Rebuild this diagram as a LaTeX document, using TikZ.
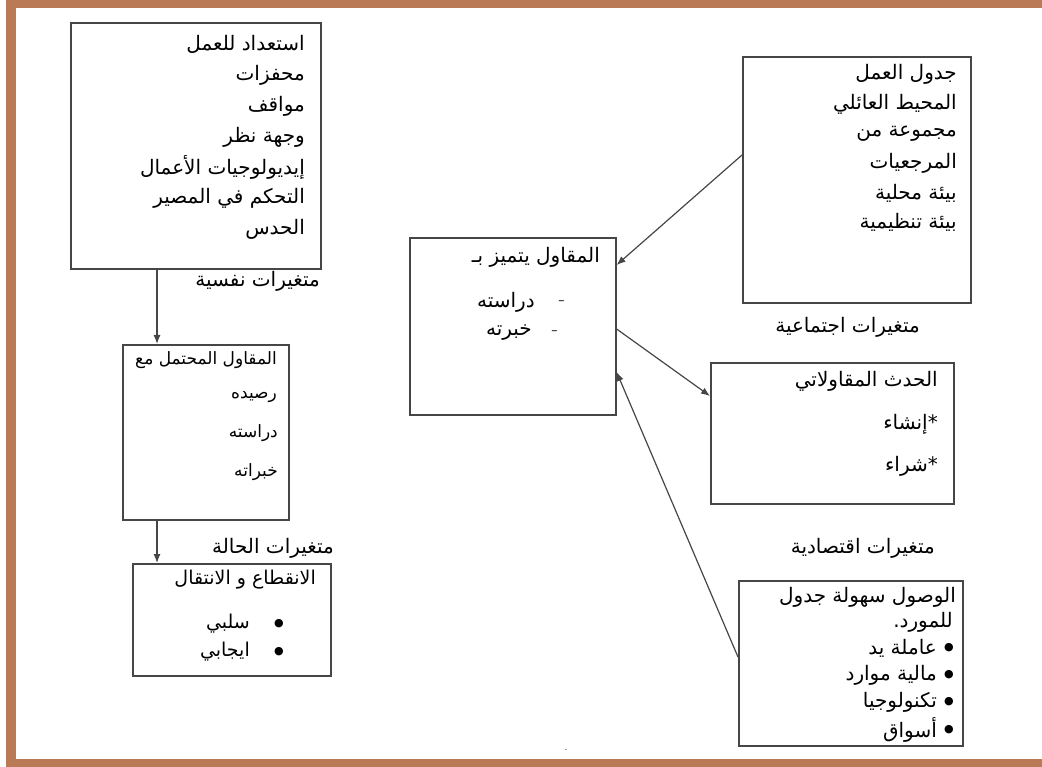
\documentclass[tikz,border=0pt]{standalone}
\usepackage{fontspec}
\newfontfamily\arabicfont[Script=Arabic]{DejaVu Sans}
\newfontfamily\symfont{DejaVu Sans}
\TeXXeTstate=1
\usetikzlibrary{arrows.meta}
\definecolor{framecol}{RGB}{187,122,86}
\definecolor{boxline}{RGB}{70,70,70}
\newcommand\artxt[1]{\arabicfont\beginR #1\endR}
\tikzset{
  box/.style={draw=boxline,line width=1.6pt,rectangle,inner sep=0pt,anchor=north west},
  tx/.style={anchor=east,inner sep=0pt,font=\fontsize{20}{22}\selectfont},
  sm/.style={anchor=east,inner sep=0pt,font=\fontsize{17}{19}\selectfont},
  md/.style={anchor=east,inner sep=0pt,font=\fontsize{19}{21}\selectfont},
  arr/.style={draw=boxline,line width=1.2pt,-{Latex[length=9pt,width=7pt]}},
  blt/.style={anchor=center,inner sep=0pt,font=\symfont\fontsize{11}{12}\selectfont},
}
\begin{document}
\begin{tikzpicture}[x=1pt,y=-1pt]
\useasboundingbox (0,0) rectangle (1042,767);
% frame
\fill[framecol] (6,0) rectangle (1042,8);
\fill[framecol] (6,0) rectangle (16,767);
\fill[framecol] (6,759) rectangle (1042,767);

% boxes
\node[box,minimum width=250pt,minimum height=246pt] (A) at (70,22) {};
\node[box,minimum width=166pt,minimum height=175pt] (B) at (122,344) {};
\node[box,minimum width=198pt,minimum height=112pt] (C) at (132,563) {};
\node[box,minimum width=206pt,minimum height=177pt] (D) at (409,237) {};
\node[box,minimum width=228pt,minimum height=246pt] (E) at (742,56) {};
\node[box,minimum width=243pt,minimum height=141pt] (F) at (710,362) {};
\node[box,minimum width=224pt,minimum height=165pt] (G) at (738,580) {};

% box A text
\node[tx] (a1) at (305,44) {\artxt{استعداد للعمل}};
\node[tx] (a2) at (305,75) {\artxt{محفزات}};
\node[tx] (a3) at (305,106) {\artxt{مواقف}};
\node[tx] (a4) at (305,137) {\artxt{وجهة نظر}};
\node[tx] (a5) at (305,167) {\artxt{إيديولوجيات الأعمال}};
\node[tx] (a6) at (305,198) {\artxt{التحكم في المصير}};
\node[tx] (a7) at (305,229) {\artxt{الحدس}};
\node[tx] (lA) at (320,281) {\artxt{متغيرات نفسية}};

% box B text
\node[sm] (b1) at (277,360) {\artxt{المقاول المحتمل مع}};
\node[sm] (b2) at (277,397) {\artxt{رصيده}};
\node[sm] (b3) at (278,433) {\artxt{دراسته}};
\node[sm] (b4) at (278,472) {\artxt{خبراته}};
\node[tx] (lB) at (334,548) {\artxt{متغيرات الحالة}};

% box C text
\node[md] (c1) at (316,580) {\artxt{الانقطاع و الانتقال}};
\node[blt] (cd1) at (279,624) {●};
\node[md] (c2) at (250,624) {\artxt{سلبي}};
\node[blt] (cd2) at (279,652) {●};
\node[md] (c3) at (250,652) {\artxt{ايجابي}};

% box D text
\node[tx] (d1t) at (600,257) {\artxt{المقاول يتميز بـ}};
\node[tx,anchor=center] (dd1) at (562,303) {-};
\node[tx] (d2t) at (535,302) {\artxt{دراسته}};
\node[tx,anchor=center] (dd2) at (555,333) {-};
\node[tx] (d3t) at (532,333) {\artxt{خبرته}};

% box E text
\node[tx] (e1t) at (957,74) {\artxt{جدول العمل}};
\node[tx] (e2t) at (957,104) {\artxt{المحيط العائلي}};
\node[tx] (e3t) at (957,134) {\artxt{مجموعة من}};
\node[tx] (e4t) at (957,163) {\artxt{المرجعيات}};
\node[tx] (e5t) at (957,193) {\artxt{بيئة محلية}};
\node[tx] (e6t) at (957,222) {\artxt{بيئة تنظيمية}};
\node[tx] (lE) at (920,327) {\artxt{متغيرات اجتماعية}};

% box F text
\node[tx] (f1t) at (938,381) {\artxt{الحدث المقاولاتي}};
\node[tx] (f2t) at (938,424) {\artxt{*إنشاء}};
\node[tx] (f3t) at (938,466) {\artxt{*شراء}};
\node[tx] (lF) at (935,548) {\artxt{متغيرات اقتصادية}};

% box G text
\node[tx] (g1t) at (956,597) {\artxt{الوصول سهولة جدول}};
\node[tx] (g2t) at (953,622) {\artxt{للمورد.}};
\node[blt] (gd1) at (949,648) {●};
\node[tx] (g3t) at (937,648) {\artxt{عاملة يد}};
\node[blt] (gd2) at (949,675) {●};
\node[tx] (g4t) at (937,675) {\artxt{مالية موارد}};
\node[blt] (gd3) at (949,702) {●};
\node[tx] (g5t) at (937,702) {\artxt{تكنولوجيا}};
\node[blt] (gd4) at (949,730) {●};
\node[tx] (g6t) at (937,730) {\artxt{أسواق}};

% small mark
\node[inner sep=0pt,font=\fontsize{6}{6}\selectfont] (mk) at (566,751) {-};

% connectors
\coordinate (ax) at (157,0);
\draw[arr] (A.south -| ax) -- (B.north -| ax);
\draw[arr] (B.south -| ax) -- (C.north -| ax);
\coordinate (pe) at (0,155);
\coordinate (pd1) at (0,265);
\draw[arr] (E.west |- pe) -- (D.east |- pd1);
\coordinate (pd2) at (0,329);
\coordinate (pf) at (0,396);
\draw[arr] (D.east |- pd2) -- (F.west |- pf);
\coordinate (pg) at (0,657);
\coordinate (pd3) at (0,372);
\draw[arr] (G.west |- pg) -- (D.east |- pd3);
\end{tikzpicture}
\end{document}
